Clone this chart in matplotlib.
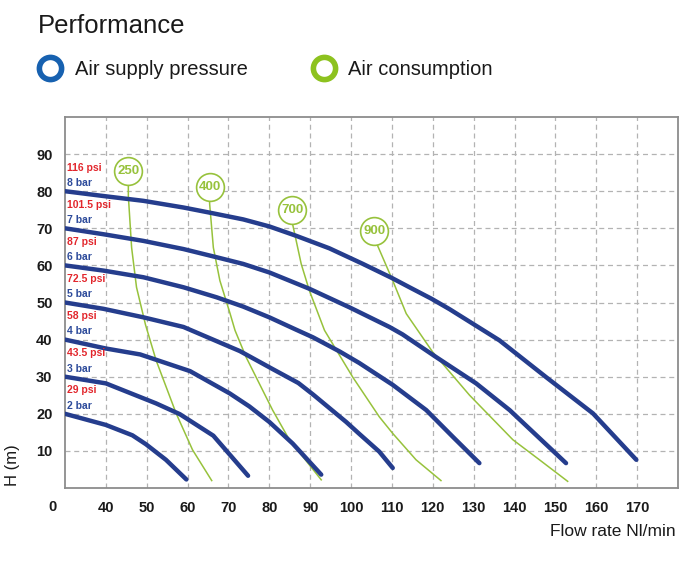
import matplotlib.pyplot as plt
from matplotlib.lines import Line2D

plt.rcParams['font.family'] = ['Liberation Sans', 'DejaVu Sans']

# --- data ---
x_ticks = [40, 50, 60, 70, 80, 90, 100, 110, 120, 130, 140, 150, 160, 170]
y_ticks = [10, 20, 30, 40, 50, 60, 70, 80, 90]

# air supply pressure curves: flow (Nl/min) vs head (m)
bar_labels = ['2 bar', '3 bar', '4 bar', '5 bar', '6 bar', '7 bar', '8 bar']
psi_labels = ['29 psi', '43.5 psi', '58 psi', '72.5 psi', '87 psi', '101.5 psi', '116 psi']
bar_heads = [20, 30, 40, 50, 60, 70, 80]

flow_2bar = [30, 40, 46.5, 49.8, 54.7, 59.7]
head_2bar = [20, 17, 14.2, 11.8, 7.6, 2.3]
flow_3bar = [30, 40, 52.3, 58.1, 66.3, 74.8]
head_3bar = [30, 28.2, 22.8, 19.9, 14.1, 3.3]
flow_4bar = [30, 40, 48.4, 60.6, 70.3, 75.1, 80, 85.7, 92.7]
head_4bar = [40, 37.6, 36, 31.5, 25.5, 22, 17.8, 12, 3.6]
flow_5bar = [30, 39.4, 49.2, 59, 72.8, 80.9, 87.1, 90.7, 98.8, 102, 106.9, 110.2]
head_5bar = [50, 48.3, 46, 43.4, 36.9, 32, 28.3, 25.2, 17.8, 14.6, 9.8, 5.4]
flow_6bar = [30, 39.4, 49.2, 59, 67.1, 73.6, 80, 86.5, 90.7, 97.2, 102, 110.2, 118.4, 124.9, 131.4]
head_6bar = [60, 58.6, 56.8, 54.1, 51.4, 48.9, 46, 42.7, 40.6, 36.8, 33.7, 27.8, 21, 13.8, 6.7]
flow_7bar = [30, 39.4, 49.2, 59, 67.1, 73.6, 80, 89.8, 99.6, 109.4, 112.6, 120.8, 130.6, 138.8, 152.6]
head_7bar = [70, 68.4, 66.6, 64.4, 62.2, 60.4, 58.1, 53.7, 48.7, 43.4, 41.4, 35.3, 28.2, 21, 6.7]
flow_8bar = [30, 39.4, 49.2, 59, 65.5, 73.6, 80, 86.5, 94.7, 102.9, 110, 114.3, 119.7, 124.1,
             136.3, 147.7, 159.2, 169.8]
head_8bar = [80, 78.7, 77.4, 75.6, 74.2, 72.4, 70.5, 68, 64.6, 60.4, 56.6, 54.1, 51, 48.2,
             39.8, 29.9, 20.1, 7.6]

bar_flows = [flow_2bar, flow_3bar, flow_4bar, flow_5bar, flow_6bar, flow_7bar, flow_8bar]
bar_curves = [head_2bar, head_3bar, head_4bar, head_5bar, head_6bar, head_7bar, head_8bar]

# air consumption curves
cons_labels = ['250', '400', '700', '900']
cons_bubble_x = [45.5, 65.4, 85.6, 105.7]
cons_bubble_y = [85.4, 81.1, 74.9, 69.3]

flow_250 = [45.5, 45.5, 46.3, 47.5, 49.7, 52.3, 57.2, 61.2, 65.9]
head_250 = [85, 78.7, 64.8, 54.1, 44, 34.4, 20.1, 10.3, 2]
flow_400 = [65.3, 65.4, 66.3, 67.9, 70.4, 71.6, 74.3, 80.8, 84.9, 92.7]
head_400 = [80, 76.5, 64.8, 55.9, 47, 42.5, 35.3, 21, 13, 2.2]
flow_700 = [85.6, 85.7, 87.8, 89.8, 93.5, 100.4, 106.9, 110.2, 115.9, 122]
head_700 = [74, 71.1, 60.4, 53.2, 42.5, 29.9, 19.2, 14.7, 7.6, 2]
flow_900 = [105.7, 106.5, 110.2, 113.5, 120, 129, 139.6, 146.1, 153]
head_900 = [68, 65.3, 55.9, 47, 36.6, 25, 13, 7.6, 1.8]

cons_flows = [flow_250, flow_400, flow_700, flow_900]
cons_curves = [head_250, head_400, head_700, head_900]

navy = '#253d8d'
green = '#97c23c'
red = '#e2262c'
label_blue = '#2d4b9b'

fig = plt.figure(figsize=(6.92, 5.66), dpi=100)
ax = fig.add_axes([65 / 692, 78 / 566, 613 / 692, 371 / 566])

ax.set_xlim(30, 180)
ax.set_ylim(0, 100)
ax.set_xticks(x_ticks)
ax.set_yticks(y_ticks)
ax.set_axisbelow(True)
ax.grid(True, color='#b3b3b3', linestyle=(0, (4, 3)), linewidth=0.9)
ax.tick_params(length=0, labelsize=10.5, colors='#1a1a1a')
ax.tick_params(axis='x', pad=9)
ax.tick_params(axis='y', pad=9)
for lbl in ax.get_xticklabels() + ax.get_yticklabels():
    lbl.set_fontweight('bold')
for s in ax.spines.values():
    s.set_color('#8c8c8c')
    s.set_linewidth(1.3)

# air consumption lines and bubbles
for q, h in zip(cons_flows, cons_curves):
    ax.plot(q, h, color=green, linewidth=1.1, zorder=2)
for bx, by, lab in zip(cons_bubble_x, cons_bubble_y, cons_labels):
    ax.plot(bx, by, 'o', ms=20, mfc='white', mec=green, mew=1.2, zorder=5)
    ax.text(bx, by, lab, color=green, fontsize=9.5, fontweight='bold',
            ha='center', va='center', zorder=6)

# pressure curves
for q, h in zip(bar_flows, bar_curves):
    ax.plot(q, h, color=navy, linewidth=3.2, solid_capstyle='round',
            solid_joinstyle='round', zorder=3)

# pressure labels along the left side
for base, b, p in zip(bar_heads, bar_labels, psi_labels):
    ax.text(30.4, base + 2.2, b, color=label_blue, fontsize=7.5,
            fontweight='bold', va='center', ha='left', zorder=4)
    ax.text(30.4, base + 6.3, p, color=red, fontsize=7.5,
            fontweight='bold', va='center', ha='left', zorder=4)

fig.text(52.5 / 692, 1 - 507 / 566, '0', fontsize=10.5, fontweight='bold',
         color='#1a1a1a', ha='center', va='center')
fig.text(676 / 692, 1 - 532 / 566, 'Flow rate Nl/min', fontsize=12.5,
         color='#1a1a1a', ha='right', va='center')
fig.text(13 / 692, 1 - 465 / 566, 'H (m)', fontsize=12, color='#1a1a1a',
         rotation=90, ha='center', va='center')

# title and legend
fig.text(38 / 692, 1 - 33 / 566, 'Performance', fontsize=18.5,
         color='#1a1a1a', ha='left', va='baseline')
fig.add_artist(Line2D([49.5 / 692], [1 - 67.5 / 566], transform=fig.transFigure,
                      marker='o', ms=16, mfc='none', mec='#1761b0', mew=4.0))
fig.add_artist(Line2D([324 / 692], [1 - 67.5 / 566], transform=fig.transFigure,
                      marker='o', ms=16, mfc='none', mec='#8dc21f', mew=4.0))
fig.text(75 / 692, 1 - 75 / 566, 'Air supply pressure', fontsize=14.5,
         color='#1a1a1a', ha='left', va='baseline')
fig.text(348 / 692, 1 - 75 / 566, 'Air consumption', fontsize=14.5,
         color='#1a1a1a', ha='left', va='baseline')

fig.savefig('out.png', dpi=100)
